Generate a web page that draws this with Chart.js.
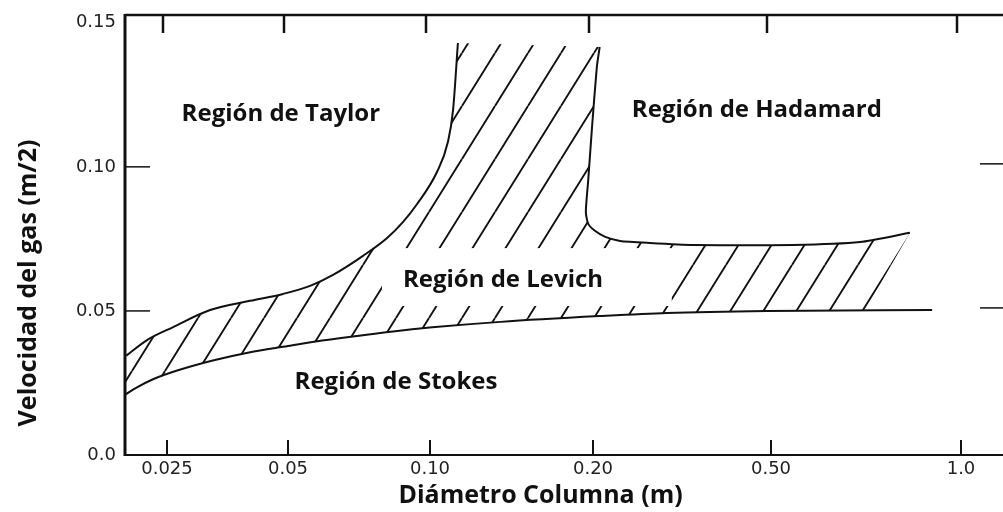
<!DOCTYPE html>
<html>
<head>
<meta charset="utf-8">
<script src="https://cdn.jsdelivr.net/npm/chart.js@4.4.1/dist/chart.umd.min.js"></script>
<style>
  html, body { margin: 0; padding: 0; background: #fff; }
  canvas { display: block; }
</style>
</head>
<body>
<canvas id="regimes" width="1003" height="512"></canvas>
<script>
// Column diameter (m) and gas velocity (m/s) along each regime boundary
const stokesD = [0.0197, 0.021, 0.023, 0.0265, 0.0325, 0.040, 0.050, 0.059, 0.070, 0.0835, 0.101, 0.135, 0.207, 0.293, 0.49, 0.90];
const stokesV = [0.0210, 0.0234, 0.0262, 0.0293, 0.0328, 0.0356, 0.0378, 0.0397, 0.0413, 0.0429, 0.0443, 0.0462, 0.0482, 0.0493, 0.0500, 0.0503];

const taylorD = [0.0198, 0.0223, 0.0259, 0.0320, 0.0402, 0.0486, 0.0557, 0.0623, 0.0721, 0.0811, 0.0877, 0.0939, 0.1030, 0.1079, 0.1103, 0.1126];
const taylorV = [0.0345, 0.0399, 0.0444, 0.0503, 0.0535, 0.0559, 0.0587, 0.0625, 0.0691, 0.0753, 0.0809, 0.0871, 0.0982, 0.1086, 0.1197, 0.1430];

const hadamardD = [0.207, 0.204, 0.199, 0.196, 0.194, 0.196, 0.202, 0.213, 0.230, 0.268, 0.335, 0.542, 0.692, 0.830];
const hadamardV = [0.1416, 0.1347, 0.1128, 0.0955, 0.0843, 0.0802, 0.0778, 0.0757, 0.0743, 0.0736, 0.0729, 0.0729, 0.0739, 0.0771];

// last hatch stroke meets the Stokes line here
const hatchEndD = 0.705;
const hatchEndV = 0.0502;

const xTickValues = [0.025, 0.05, 0.10, 0.20, 0.50, 1.0];
const xTickLabels = ['0.025', '0.05', '0.10', '0.20', '0.50', '1.0'];
const yTickValues = [0, 0.05, 0.10, 0.15];
const yTickLabels = ['0.0', '0.05', '0.10', '0.15'];

const regionNames = ['Región de Taylor', 'Región de Hadamard', 'Región de Levich', 'Región de Stokes'];

// the diameter axis is printed with uneven steps between its ticks
const xStops = [4.2, 16.3, 30.5, 46.8, 64.6, 83.6];
const xMax = 87.8;
const xLogs = xTickValues.map(Math.log10);

function toAxis(d) {
  const L = Math.log10(d);
  let i = 0;
  while (i < xLogs.length - 2 && L > xLogs[i + 1]) i++;
  const t = (L - xLogs[i]) / (xLogs[i + 1] - xLogs[i]);
  return xStops[i] + t * (xStops[i + 1] - xStops[i]);
}

const pts = (ds, vs) => ds.map((d, i) => ({ x: toAxis(d), y: vs[i] }));

// transition zone: along Stokes, up the Hadamard edge, back down Taylor
const zone = [];
stokesD.forEach((d, i) => { if (d < hatchEndD) zone.push({ d, v: stokesV[i] }); });
zone.push({ d: hatchEndD, v: hatchEndV });
for (let i = hadamardD.length - 1; i >= 0; i--) zone.push({ d: hadamardD[i], v: hadamardV[i] });
for (let i = taylorD.length - 1; i >= 0; i--) zone.push({ d: taylorD[i], v: taylorV[i] });
const zonePoints = zone.map(p => ({ x: toAxis(p.d), y: p.v }));

const canvas = document.getElementById('regimes');

function hatchPattern() {
  const w = 33, h = 53;
  const tile = document.createElement('canvas');
  tile.width = w;
  tile.height = h;
  const g = tile.getContext('2d');
  g.strokeStyle = '#111';
  g.lineWidth = 1.9;
  g.beginPath();
  for (const dx of [-w, 0, w]) {
    g.moveTo(dx, h);
    g.lineTo(dx + w, 0);
  }
  g.stroke();
  return canvas.getContext('2d').createPattern(tile, 'repeat');
}

function seg(ctx, x1, y1, x2, y2, w) {
  ctx.lineWidth = w;
  ctx.beginPath();
  ctx.moveTo(x1, y1);
  ctx.lineTo(x2, y2);
  ctx.stroke();
}

// box with inward ticks on all sides
const frame = {
  id: 'frame',
  afterDatasetsDraw(chart) {
    const { ctx, chartArea: a, scales: { x, y } } = chart;
    ctx.save();
    ctx.strokeStyle = '#111';
    seg(ctx, a.left, a.top - 1, a.left, a.bottom + 1, 3);
    seg(ctx, a.left, a.top, a.right, a.top, 2.5);
    seg(ctx, a.left, a.bottom, a.right, a.bottom, 2);
    xTickValues.forEach(d => {
      const px = x.getPixelForValue(toAxis(d));
      seg(ctx, px - 4, a.top, px - 4, a.top + 18, 2.5);
      seg(ctx, px, a.bottom, px, a.bottom - 15, 2);
    });
    yTickValues.filter(v => v > 0 && v < 0.15).forEach(v => {
      const py = y.getPixelForValue(v);
      seg(ctx, a.left, py, a.left + 25, py, 1.5);
      seg(ctx, a.right - 23, py - 3, a.right, py - 3, 1.5);
    });
    ctx.restore();
  }
};

// region names, axis titles; the Levich name sits on a white patch over the hatching
const labelAnchors = [
  { d: 0.048, v: 0.1159 },
  { d: 0.465, v: 0.1173 },
  { d: 0.1364, v: 0.0583 },
  { d: 0.0847, v: 0.0229 }
];
const levichPatch = { d: [0.0791, 0.300], v: [0.0517, 0.0718] };

const annotations = {
  id: 'annotations',
  afterDatasetsDraw(chart) {
    const { ctx, chartArea: a, scales: { x, y } } = chart;
    ctx.save();
    const px0 = x.getPixelForValue(toAxis(levichPatch.d[0]));
    const px1 = x.getPixelForValue(toAxis(levichPatch.d[1]));
    const py0 = y.getPixelForValue(levichPatch.v[1]);
    const py1 = y.getPixelForValue(levichPatch.v[0]);
    ctx.fillStyle = '#fff';
    ctx.fillRect(px0, py0, px1 - px0, py1 - py0);

    ctx.fillStyle = '#111';
    ctx.font = 'bold 24px "Open Sans"';
    ctx.textAlign = 'center';
    ctx.textBaseline = 'alphabetic';
    regionNames.forEach((name, i) => {
      const p = labelAnchors[i];
      ctx.fillText(name, x.getPixelForValue(toAxis(p.d)), y.getPixelForValue(p.v));
    });

    ctx.font = 'bold 25px "Open Sans"';
    ctx.fillText('Diámetro Columna (m)', x.getPixelForValue(toAxis(0.16)), a.bottom + 48);

    ctx.translate(29, y.getPixelForValue(0.0597));
    ctx.rotate(-Math.PI / 2);
    ctx.textBaseline = 'middle';
    ctx.fillText('Velocidad del gas (m/2)', 0, 0);
    ctx.restore();
  }
};

const tickFont = { family: '"DejaVu Sans", sans-serif', size: 18 };

new Chart(canvas, {
  type: 'scatter',
  data: {
    datasets: [
      {
        label: 'transición',
        data: zonePoints,
        showLine: true,
        fill: 'shape',
        backgroundColor: hatchPattern(),
        borderWidth: 0,
        borderColor: 'rgba(0,0,0,0)',
        pointRadius: 0,
        tension: 0
      },
      {
        label: 'Stokes',
        data: pts(stokesD, stokesV),
        showLine: true,
        borderColor: '#111',
        borderWidth: 2,
        pointRadius: 0,
        cubicInterpolationMode: 'monotone'
      },
      {
        label: 'Taylor',
        data: pts(taylorD, taylorV),
        showLine: true,
        borderColor: '#111',
        borderWidth: 2,
        pointRadius: 0,
        cubicInterpolationMode: 'monotone'
      },
      {
        label: 'Hadamard',
        data: pts(hadamardD, hadamardV),
        showLine: true,
        borderColor: '#111',
        borderWidth: 2,
        pointRadius: 0,
        tension: 0.2
      }
    ]
  },
  options: {
    responsive: false,
    animation: false,
    layout: { padding: { top: 15, left: 0, right: 0, bottom: 0 } },
    plugins: {
      legend: { display: false },
      tooltip: { enabled: false }
    },
    scales: {
      x: {
        type: 'linear',
        min: 0,
        max: xMax,
        grid: { display: false, drawTicks: false },
        border: { display: false },
        afterBuildTicks: s => { s.ticks = xTickValues.map(d => ({ value: toAxis(d) })); },
        afterFit: s => { s.height = 57; s.paddingLeft = 0; s.paddingRight = 0; },
        ticks: {
          autoSkip: false,
          maxRotation: 0,
          padding: 4,
          color: '#222',
          font: tickFont,
          callback: (v, i) => xTickLabels[i]
        }
      },
      y: {
        type: 'linear',
        min: 0,
        max: 0.1527,
        grid: { display: false, drawTicks: false },
        border: { display: false },
        afterBuildTicks: s => { s.ticks = yTickValues.map(v => ({ value: v })); },
        afterFit: s => { s.width = 125; s.paddingTop = 0; s.paddingBottom = 0; },
        ticks: {
          autoSkip: false,
          padding: 9,
          color: '#222',
          font: tickFont,
          callback: (v, i) => yTickLabels[i]
        }
      }
    }
  },
  plugins: [frame, annotations]
});
</script>
</body>
</html>
